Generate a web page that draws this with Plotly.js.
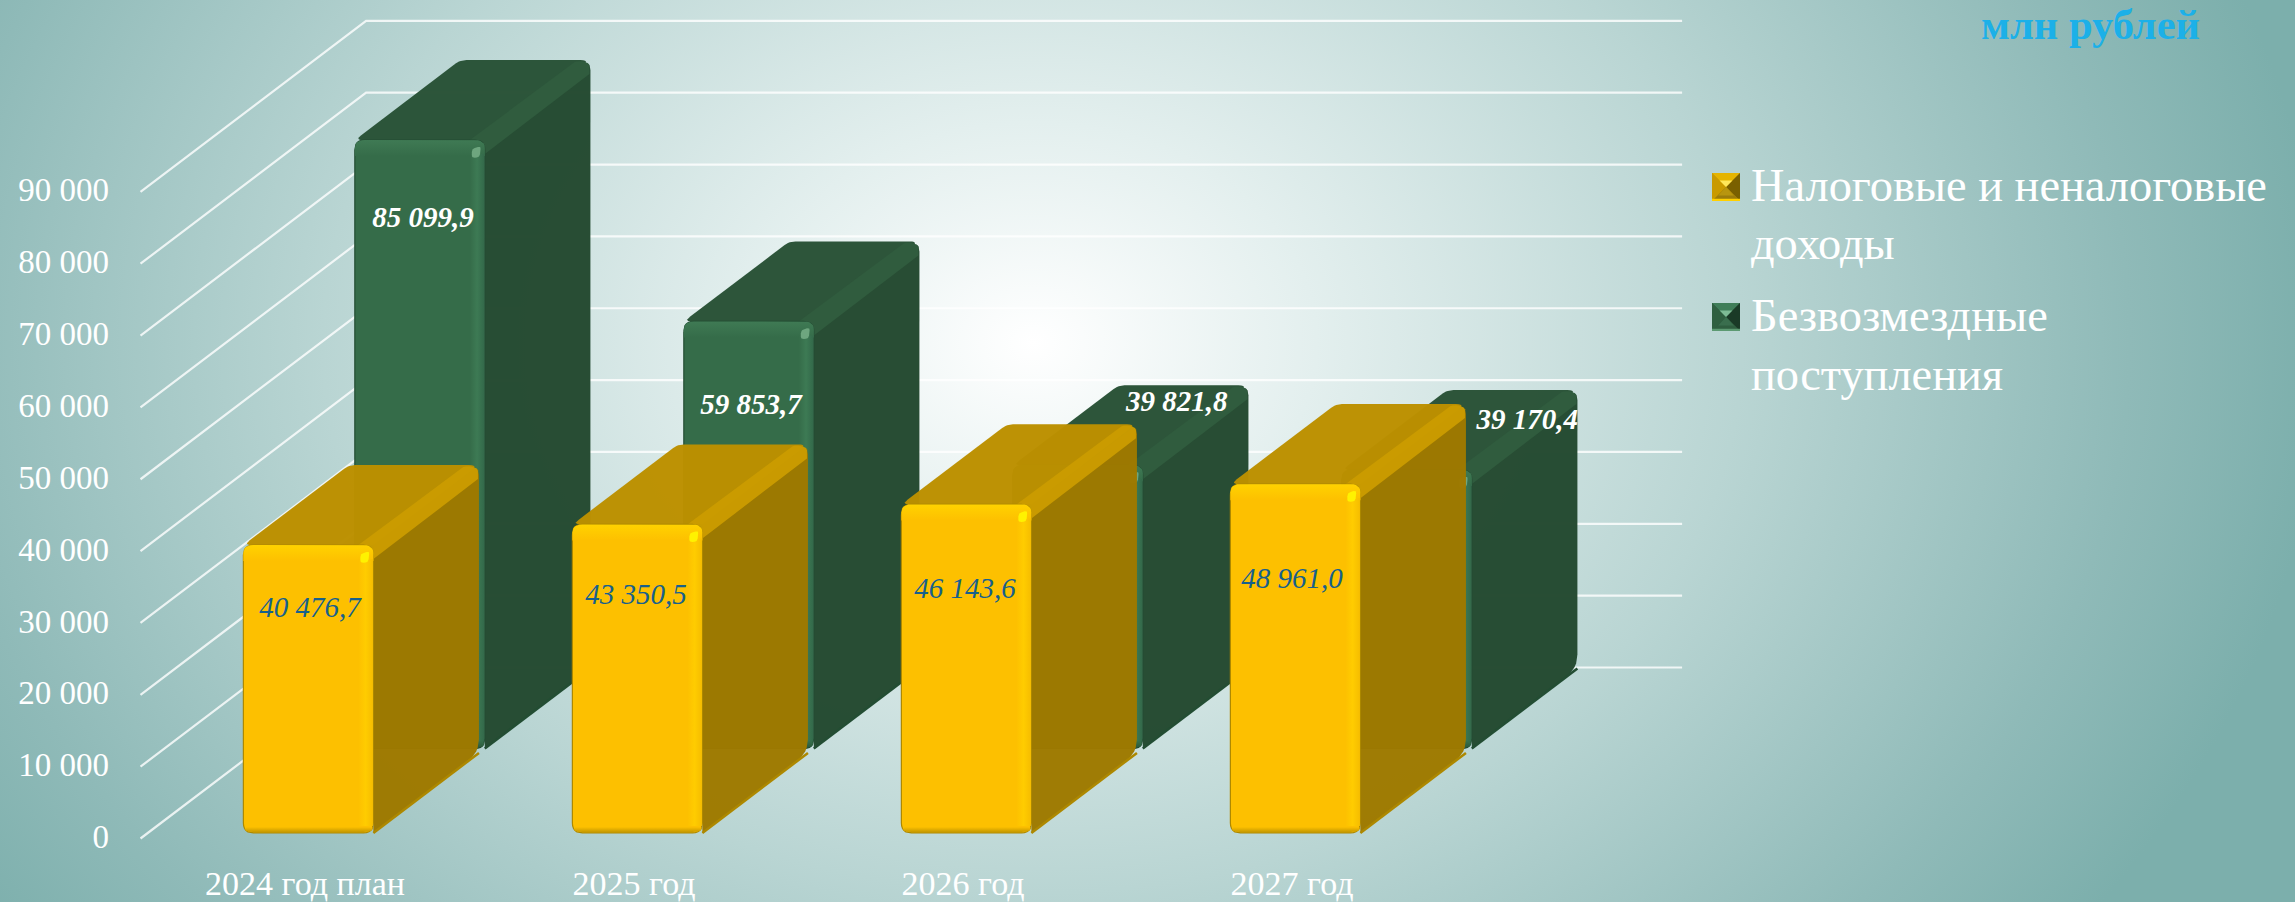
<!DOCTYPE html>
<html><head><meta charset="utf-8">
<script src="https://cdn.plot.ly/plotly-3.0.1.min.js"></script>
<style>
html,body{margin:0;padding:0;width:2295px;height:902px;overflow:hidden;
background:radial-gradient(ellipse 1290px 1000px at 45% 38%,#ffffff 0%,#e3efee 22%,#b9d5d3 55%,#8fbab8 85%,#7cafac 100%);}
#c{width:2295px;height:902px}
</style></head><body><div id="c"></div>
<script>
const categories=["2024 год план","2025 год","2026 год","2027 год"];
const taxRevenue=[40476.7,43350.5,46143.6,48961.0];
const grants=[85099.9,59853.7,39821.8,39170.4];
const yTicks=[0,10000,20000,30000,40000,50000,60000,70000,80000,90000];
const yTickLabels=["0","10 000","20 000","30 000","40 000","50 000","60 000","70 000","80 000","90 000"];
const seriesNames=["Налоговые и неналоговые доходы","Безвозмездные поступления"];
// where the data labels sit, in axis units
const taxLabelX=[0.015,1.006,2.006,3.0];
const taxLabelY=[31800,33610,34445,35840];
const grantLabelX=[0.359,1.356,2.650,3.715];
const grantLabelY=[86080,60050,60470,57970];

// axis scale
const W=2295,H=902,ML=118,MB=42,PH=H-MB;
const PXX=329, PXY=71.85/10000, X0=305, Y0=838.5;
// oblique projection of the depth axis
const DX=225.6/PXX, DY=171/PXY;
const HW=65/PXX, TD=0.468, T_TAX=0.015, T_GRANT=0.509;
const pt=(c,v,t,ox=0,oy=0)=>[c+t*DX+ox/PXX, v+t*DY-oy/PXY];
function roundPoly(pts,rad){
  const xs=[],ys=[],n=pts.length;
  const q=pts.map(p=>[p[0]*PXX,p[1]*PXY]);
  for(let i=0;i<n;i++){
    const c=q[i],a=q[(i+n-1)%n],b=q[(i+1)%n],r=rad[i];
    if(!r){xs.push(c[0]);ys.push(c[1]);continue;}
    const la=Math.hypot(a[0]-c[0],a[1]-c[1]),lb=Math.hypot(b[0]-c[0],b[1]-c[1]);
    const ra=Math.min(r,la/2),rb=Math.min(r,lb/2);
    const p1=[c[0]+(a[0]-c[0])*ra/la,c[1]+(a[1]-c[1])*ra/la];
    const p2=[c[0]+(b[0]-c[0])*rb/lb,c[1]+(b[1]-c[1])*rb/lb];
    for(let k=0;k<=6;k++){const s=k/6,u=1-s;
      xs.push(u*u*p1[0]+2*u*s*c[0]+s*s*p2[0]);
      ys.push(u*u*p1[1]+2*u*s*c[1]+s*s*p2[1]);}
  }
  xs.push(xs[0]);ys.push(ys[0]);
  return {x:xs.map(v=>v/PXX),y:ys.map(v=>v/PXY)};
}
const traces=[];
function face(poly,fill,lineColor,lineW,name,grad){
  const t={type:'scatter',mode:'lines',x:poly.x,y:poly.y,fill:'toself',
    line:{color:lineColor||'rgba(0,0,0,0)',width:lineW||0},hoverinfo:'skip',showlegend:false,name:name||''};
  if(grad) t.fillgradient=grad; else t.fillcolor=fill;
  traces.push(t);
}
const vg=(a,b)=>({type:'vertical',colorscale:[[0,a],[1,b]]});
const hg=(a,b,c)=>({type:'horizontal',colorscale:[[0,a],[0.5,b],[1,c]]});
// back wall + left wall grid
yTicks.forEach(v=>{
  const a=pt(-0.5,v,0),b=pt(-0.5,v,1),c=pt(3.5,v,1);
  traces.push({type:'scatter',mode:'lines',x:[a[0],b[0],c[0]],y:[a[1],b[1],c[1]],
    line:{color:'rgba(255,255,255,0.8)',width:2.2},hoverinfo:'skip',showlegend:false});
});
function bar(cat,v,t0,col,name){
  const xl=cat-HW,xr=cat+HW,t1=t0+TD,IB=3;
  const FTL=pt(xl,v,t0),FTR=pt(xr,v,t0),BTL=pt(xl,v,t1),BTR=pt(xr,v,t1);
  const FBR=pt(xr,0,t0,0,-IB),BBR=pt(xr,0,t1,0,-IB),FBL=pt(xl,0,t0,0,-IB);
  // side, top, ridge
  face(roundPoly([FTR,BTR,BBR,FBR],[0,10,14,0]),col.side);
  face(roundPoly([FTL,FTR,BTR,BTL],[8,0,10,6]),col.top);
  face(roundPoly([pt(xr,v,t0,-15,0),pt(xr,v,t1,-14,0),pt(xr,v,t1,-1,3),pt(xr,v,t1,-1,14),pt(xr,v,t0,0,14)],[0,7,4,0,0]),col.ridge);
  // dark lower edge of side
  traces.push({type:'scatter',mode:'lines',x:[FBR[0],BBR[0]],y:[FBR[1],BBR[1]],line:{color:col.edge,width:2.5},hoverinfo:'skip',showlegend:false});
  // front face
  face(roundPoly([FTL,FTR,FBR,FBL],[10,10,10,10]),col.front,col.edge,1.2,name);
  // bevel strips
  face(roundPoly([FTL,FTR,pt(xr,v,t0,0,16),pt(xl,v,t0,0,16)],[10,10,0,0]),null,null,0,'',vg(col.front,col.strip));
  face(roundPoly([pt(xr,v,t0,-15,14),pt(xr,v,t0,-0.5,14),pt(xr,0,t0,-0.5,-10),pt(xr,0,t0,-15,-10)],[0,0,0,0]),null,null,0,'',hg(col.front,col.strip2,col.strip3));
  face(roundPoly([pt(xl,0,t0,3,-9),pt(xr,0,t0,-1,-9),pt(xr,0,t0,-1,-IB-1),pt(xl,0,t0,1,-IB-1)],[0,0,9,9]),null,null,0,'',vg(col.bottom,col.front));
  // specular dot
  face(roundPoly([pt(xr,v,t0,-13,9),pt(xr,v,t0,-4,6),pt(xr,v,t0,-5,17),pt(xr,v,t0,-13,18)],[3,3,3,3]),col.spec);
}
const cGrant={side:'rgba(37,74,49,0.985)',top:'rgba(42,82,55,0.985)',ridge:'#305c3e',edge:'#234d33',front:'#356c49',strip:'#3f7a54',strip2:'#3d7a54',strip3:'#33694a',bottom:'#2b5a3c',spec:'#6ea67f'};
const cTax={side:'rgba(158,121,0,0.98)',top:'rgba(188,144,0,0.98)',ridge:'rgba(202,155,0,0.98)',edge:'#ad8800',front:'#fdc000',strip:'#ffd200',strip2:'#ffcc00',strip3:'#f6bd00',bottom:'#c79a00',spec:'#fff200'};
categories.forEach((_,i)=>bar(i,grants[i],T_GRANT,cGrant,seriesNames[1]));
categories.forEach((_,i)=>bar(i,taxRevenue[i],T_TAX,cTax,seriesNames[0]));
// data labels
const fmt=v=>{const s=v.toFixed(1).replace('.',',');const [a,b]=s.split(',');return a.replace(/\B(?=(\d{3})+$)/g,' ')+','+b;};
const FF='"Liberation Serif",serif';
traces.push({type:'scatter',mode:'text',x:grantLabelX,y:grantLabelY,text:grants.map(fmt),textposition:'middle center',
  textfont:{family:FF,size:29,color:'#ffffff',style:'italic',weight:'bold'},hoverinfo:'skip',showlegend:false,cliponaxis:false});
traces.push({type:'scatter',mode:'text',x:taxLabelX,y:taxLabelY,text:taxRevenue.map(fmt),textposition:'middle center',
  textfont:{family:FF,size:29,color:'#17608c',style:'italic'},hoverinfo:'skip',showlegend:false,cliponaxis:false});

const px=x=>(x-ML)/(W-ML), py=y=>1-y/PH;
function txt(x,y,t,size,color,extra){return Object.assign({xref:'paper',yref:'paper',x:px(x),y:py(y),text:t,showarrow:false,xanchor:'left',yanchor:'middle',
  font:{family:FF,size:size,color:color}},extra||{});}
const annotations=[
  txt(1749,186,'Налоговые и неналоговые',46.4,'#fff'),
  txt(1749,243,'доходы',46.4,'#fff'),
  txt(1749,315,'Безвозмездные',46.4,'#fff'),
  txt(1749,374,'поступления',46.4,'#fff'),
  txt(1979,24,'<b>млн рублей</b>',42.5,'#1cb0e8')
];
function swatch(x,y,s,c){
  const P=(a,b)=>[px(x+a*s),py(y+b*s)];
  const path=(arr)=>'M'+arr.map(p=>P(p[0],p[1]).join(',')).join('L')+'Z';
  const mk=(arr,col)=>({type:'path',xref:'paper',yref:'paper',path:path(arr),fillcolor:col,line:{width:0},layer:'above'});
  return [
   mk([[0,0],[1,0],[1,1],[0,1]],c[0]),
   mk([[0,0],[1,0],[.5,.5]],c[1]),
   mk([[0,0],[.5,.5],[0,1]],c[2]),
   mk([[1,0],[.5,.5],[1,1]],c[3]),
   mk([[0,1],[.5,.5],[1,1]],c[4]),
   mk([[.22,.8],[.78,.8],[.5,.5]],c[6]),
   mk([[.27,.27],[.73,.27],[.5,.5]],c[7]),
   mk([[0,.92],[1,.92],[1,1],[0,1]],c[5])
  ];
}
const shapes=[...swatch(1712,173,28,['#c89a00','#e5b400','#c99a00','#7a6000','#9c7c0c','#ffd000','#b8950f','#ffe75a']),
              ...swatch(1712,303,28,['#2c5a3c','#3f7d58','#2f5f40','#1a3a27','#2f5e40','#5c9a72','#3a6e4e','#7dbb95'])];
const layout={
  width:W,height:H,margin:{l:ML,r:0,t:0,b:MB,pad:0},
  paper_bgcolor:'rgba(0,0,0,0)',plot_bgcolor:'rgba(0,0,0,0)',showlegend:false,
  font:{family:FF,color:'#fff',size:33},
  xaxis:{range:[(ML-X0)/PXX,(W-X0)/PXX],tickmode:'array',tickvals:[0,1,2,3],ticktext:categories,showgrid:false,zeroline:false,showline:false,ticks:'',
    tickfont:{family:FF,size:34,color:'#fff'},automargin:false,ticklabelstandoff:0},
  yaxis:{range:[(Y0-PH)/PXY,Y0/PXY],tickmode:'array',tickvals:yTicks,ticktext:yTickLabels,showgrid:false,zeroline:false,showline:false,ticks:'',
    tickfont:{family:FF,size:33,color:'#fff'},automargin:false,ticklabelstandoff:8,ticklabelshift:-2},
  annotations,shapes
};
Plotly.newPlot('c',traces,layout,{displayModeBar:false,staticPlot:true});
</script></body></html>
